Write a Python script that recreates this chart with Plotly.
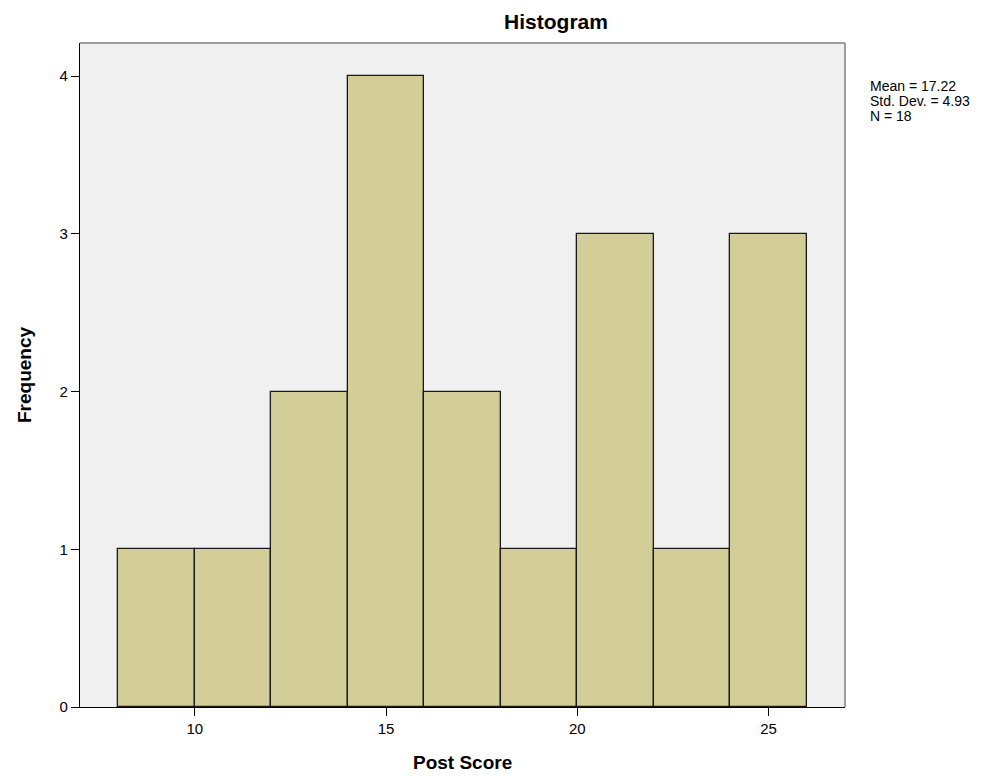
import plotly.graph_objects as go

bin_centers = [9, 11, 13, 15, 17, 19, 21, 23, 25]
counts = [1, 1, 2, 4, 2, 1, 3, 1, 3]
bin_width = 2
x_ticks = [10, 15, 20, 25]
y_ticks = [0, 1, 2, 3, 4]
stats_lines = ["Mean = 17.22", "Std. Dev. = 4.93", "N = 18"]

W, H = 986, 767
L, R, T, B = 72, 149, 35, 68
PW, PH = W - L - R, H - T - B

fig = go.Figure()
fig.add_trace(go.Bar(
    x=bin_centers, y=counts, width=[bin_width] * len(bin_centers),
    marker=dict(color="#D3CE97", line=dict(color="#1a1a1a", width=1.3)),
    hoverinfo="x+y",
))

fig.update_layout(
    width=W, height=H,
    margin=dict(l=L, r=R, t=T, b=B, autoexpand=False),
    paper_bgcolor="white", plot_bgcolor="#F0F0F0",
    font=dict(family="Liberation Sans, Arial, sans-serif", color="black", size=15),
    showlegend=False, bargap=0,
    title=dict(text="<b>Histogram</b>", x=548 / W, xanchor="center",
               y=1 - 14 / H, yanchor="middle",
               font=dict(size=21, family="Liberation Sans, Arial, sans-serif")),
    xaxis=dict(range=[7, 27], tickvals=x_ticks, ticks="outside", ticklen=8,
               tickwidth=1.3, tickcolor="black", showgrid=False, zeroline=False,
               showline=True, linecolor="black", linewidth=1.3, automargin=False),
    yaxis=dict(range=[0, 4.21], tickvals=y_ticks, ticks="outside", ticklen=8,
               tickwidth=1.3, tickcolor="black", showgrid=False, zeroline=False,
               showline=True, linecolor="black", linewidth=1.3, automargin=False,
               title=dict(text="<b>Frequency</b>", standoff=22,
                          font=dict(size=19))),
)

# x-axis title placed as an annotation for precise vertical position
fig.add_annotation(text="<b>Post Score</b>", xref="paper", yref="paper",
                   x=0.5, y=-(754 - (T + PH)) / PH, xanchor="center", yanchor="middle",
                   showarrow=False, font=dict(size=19))

fig.add_shape(type="line", xref="paper", yref="paper", x0=0, x1=1, y0=1, y1=1,
              line=dict(color="#808080", width=1.5))
fig.add_shape(type="line", xref="paper", yref="paper", x0=1, x1=1, y0=0, y1=1,
              line=dict(color="#808080", width=1.5))

for i, line in enumerate(stats_lines):
    yc = 78 + 15 * i
    fig.add_annotation(text=line, xref="paper", yref="paper",
                       x=(860 - L) / PW, y=1 - (yc - T) / PH,
                       xanchor="left", yanchor="middle", showarrow=False, align="left",
                       font=dict(size=14))

fig.write_html("out.html")
